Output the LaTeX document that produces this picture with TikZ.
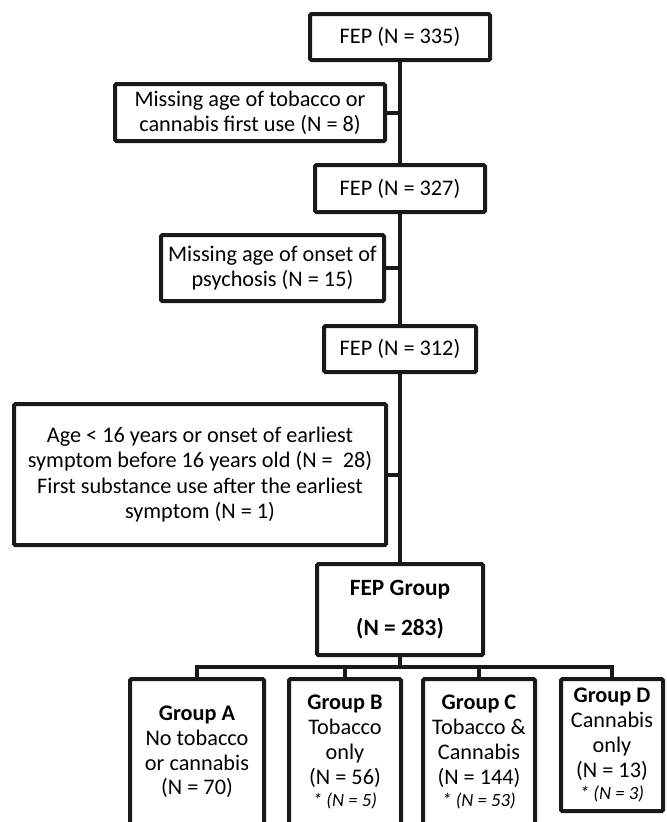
\documentclass[tikz,border=0pt]{standalone}
\usepackage{fontspec}
\setmainfont{Carlito}
\begin{document}
\begin{tikzpicture}[x=0.75pt,y=-0.75pt,
  box/.style={draw=black!90, line width=3pt, rounded corners=1pt, inner sep=0pt, align=center,
    font=\fontsize{16.7}{18.6}\selectfont},
  conn/.style={draw=black!90, line width=3pt}]
\useasboundingbox (0,0) rectangle (667,822);
\clip (0,0) rectangle (667,822);
\node[box, minimum width=135pt, minimum height=34.5pt] (n335) at (400,37) {FEP (N = 335)};
\node[box, minimum width=202.5pt, minimum height=42.75pt] (m1) at (250,112.5) {Missing age of tobacco or\\cannabis first use (N = 8)};
\node[box, minimum width=127.5pt, minimum height=35.25pt] (n327) at (400,188.5) {FEP (N = 327)};
\node[box, minimum width=167.25pt, minimum height=49.5pt] (m2) at (272.5,268) {Missing age of onset of\\psychosis (N = 15)};
\node[box, minimum width=114pt, minimum height=34.5pt] (n312) at (400,349) {FEP (N = 312)};
\node[box, minimum width=279pt, minimum height=105.75pt] (big) at (200,474.5) {Age < 16 years or onset of earliest\\symptom before 16 years old (N =\ \ 28)\\[1.5pt]First substance use after the earliest\\symptom (N = 1)};
\node[box, minimum width=124.5pt, minimum height=68.25pt, font=\fontsize{17.5}{19}\selectfont\bfseries] (grp) at (400,609.5) {FEP Group\\[11pt](N = 283)};
\node[box, minimum width=100.5pt, minimum height=109.5pt] (A) at (197,752) {\bfseries Group A\\No tobacco\\or cannabis\\(N = 70)};
\node[box, minimum width=84pt, minimum height=109.5pt] (B) at (345,752) {\bfseries Group B\\Tobacco\\only\\(N = 56)\\[-2pt]{\fontsize{14}{16}\selectfont\itshape * (N = 5)}};
\node[box, minimum width=84pt, minimum height=109.5pt] (C) at (479,752) {\bfseries Group C\\Tobacco \&\\Cannabis\\(N = 144)\\[-2pt]{\fontsize{14}{16}\selectfont\itshape * (N = 53)}};
\node[box, minimum width=76.5pt, minimum height=99pt] (D) at (612,745) {\bfseries Group D\\Cannabis\\only\\(N = 13)\\[-2pt]{\fontsize{14}{16}\selectfont\itshape * (N = 3)}};
\coordinate (bus) at (400,667);
\draw[conn] (n335) -- (n327);
\draw[conn] (n327) -- (n312);
\draw[conn] (n312) -- (grp);
\draw[conn] (m1.east) -- (m1.east -| n335.south);
\draw[conn] (m2.east) -- (m2.east -| n335.south);
\draw[conn] (big.east) -- (big.east -| n335.south);
\draw[conn] (grp.south) -- (bus);
\draw[conn] (A.north) -- (A.north |- bus) -- (D.north |- bus) -- (D.north);
\draw[conn] (B.north) -- (B.north |- bus);
\draw[conn] (C.north) -- (C.north |- bus);
\end{tikzpicture}
\end{document}
